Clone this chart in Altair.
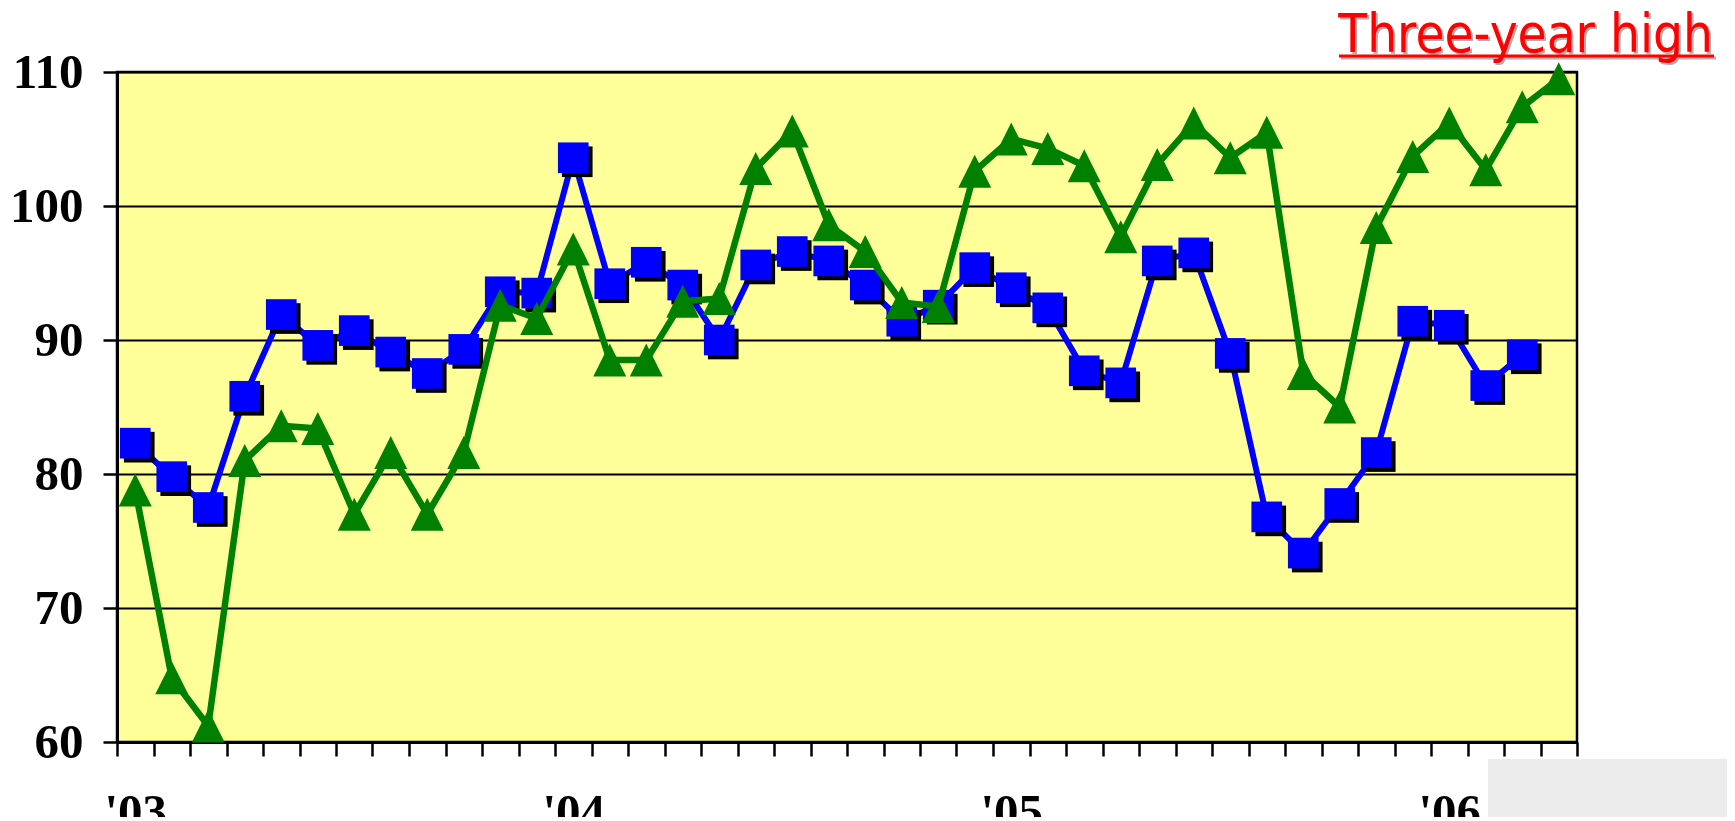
import altair as alt
import pandas as pd

# ---- data ----
years = [2003, 2004, 2005, 2006]
months = [f"{y}-{m:02d}" for y in years for m in range(1, 13)][:40]
year_tick_idx = [0, 12, 24, 36]
year_labels = ["'03", "'04", "'05", "'06"]
y_ticks = [60, 70, 80, 90, 100, 110]

blue = [82.3, 79.8, 77.5, 85.8, 91.9, 89.6, 90.7, 89.1, 87.5, 89.3,
        93.6, 93.5, 103.6, 94.2, 95.8, 94.1, 90.0, 95.6, 96.6, 95.9,
        94.1, 91.4, 92.6, 95.4, 93.9, 92.4, 87.7, 86.8, 95.9, 96.5,
        89.0, 76.8, 74.1, 77.8, 81.6, 91.4, 91.1, 86.6, 88.9]
green = [78.8, 64.8, 61.2, 81.0, 83.6, 83.4, 77.0, 81.6, 77.0, 81.6,
         92.6, 91.6, 96.8, 88.5, 88.5, 92.9, 93.1, 102.8, 105.6, 98.6,
         96.6, 92.8, 92.5, 102.6, 105.0, 104.3, 103.0, 97.7, 103.1, 106.2,
         103.6, 105.5, 87.5, 85.0, 98.4, 103.7, 106.2, 102.7, 107.4, 109.5]

title_text = "Three-year high"

df_b = pd.DataFrame({"month": months[:len(blue)], "idx": list(range(len(blue))), "value": blue})
df_g = pd.DataFrame({"month": months, "idx": list(range(len(green))), "value": green})

W, H = 1460, 670
n = len(months)

label_expr = "''"
for t, l in reversed(list(zip(year_tick_idx, year_labels))):
    label_expr = f'datum.value == {t} ? "{l}" : ({label_expr})'

x_axis = alt.Axis(values=list(range(n + 1)), labelExpr=label_expr,
                  labelOffset=W / n / 2, labelFlush=False, labelOverlap=False,
                  tickSize=14, tickWidth=2.5, tickColor="black",
                  domainColor="black", domainWidth=3,
                  labelFont="Liberation Serif", labelFontWeight="bold",
                  labelFontSize=49, labelColor="black", labelPadding=32,
                  labelBaseline="top", grid=False, title=None)
y_axis = alt.Axis(values=y_ticks, grid=True, gridColor="black", gridWidth=2,
                  tickSize=14, tickWidth=2.5, tickColor="black",
                  domainColor="black", domainWidth=3,
                  labelFont="Liberation Serif", labelFontWeight="bold",
                  labelFontSize=49, labelColor="black", labelPadding=20,
                  title=None)

X = alt.X("pos:Q", scale=alt.Scale(domain=[0, n], nice=False, zero=False), axis=x_axis)
Y = alt.Y("value:Q", scale=alt.Scale(domain=[60, 110], nice=False, zero=False), axis=y_axis)

tri = "M0,-1L1,1L-1,1Z"

blue_base = alt.Chart(df_b).transform_calculate(pos="datum.idx + 0.5")
green_base = alt.Chart(df_g).transform_calculate(pos="datum.idx + 0.5")

blue_line = blue_base.mark_line(color="#0000FF", strokeWidth=6, strokeJoin="round").encode(x=X, y=Y)
blue_shadow = blue_base.mark_point(shape="square", filled=True, color="black", opacity=1,
                                   size=940, xOffset=4, yOffset=4).encode(x=X, y=Y)
blue_pts = blue_base.mark_point(shape="square", filled=True, color="#0000FF", opacity=1,
                                size=940).encode(x=X, y=Y)
green_line = green_base.mark_line(color="#008000", strokeWidth=6.5, strokeJoin="round").encode(x=X, y=Y)
green_pts = green_base.mark_point(shape=tri, filled=True, color="#008000", opacity=1,
                                  size=1089).encode(x=X, y=Y)

dummy = alt.Chart(pd.DataFrame({"d": [0]}))
title_shadow = dummy.mark_text(text=title_text, font="DejaVu Sans Condensed", fontSize=52.5,
                               color="#B0B0B0", align="right", baseline="alphabetic").encode(
    x=alt.value(1598), y=alt.value(-18))
title = dummy.mark_text(text=title_text, font="DejaVu Sans Condensed", fontSize=52.5,
                        color="#FF0000", align="right", baseline="alphabetic").encode(
    x=alt.value(1596), y=alt.value(-20))
uline_shadow = dummy.mark_rule(color="#B0B0B0", strokeWidth=3).encode(
    x=alt.value(1224), x2=alt.value(1599), y=alt.value(-14))
uline = dummy.mark_rule(color="#FF0000", strokeWidth=3).encode(
    x=alt.value(1222), x2=alt.value(1597), y=alt.value(-16))
grey_box = dummy.mark_rect(color="#ECECEC", opacity=1).encode(
    x=alt.value(1371), x2=alt.value(1640), y=alt.value(687), y2=alt.value(760))

chart = alt.layer(
    blue_line, blue_shadow, blue_pts, green_line, green_pts,
    grey_box, uline_shadow, title_shadow, uline, title
).properties(
    width=W, height=H,
    autosize=alt.AutoSizeParams(type="none"),
    padding={"left": 109, "top": 64, "right": 150, "bottom": 75},
    background="white",
).configure_view(
    fill="#FFFF99", stroke="black", strokeWidth=2.5
)

chart.save("out.html", embed_options={"renderer": "svg", "actions": False})
